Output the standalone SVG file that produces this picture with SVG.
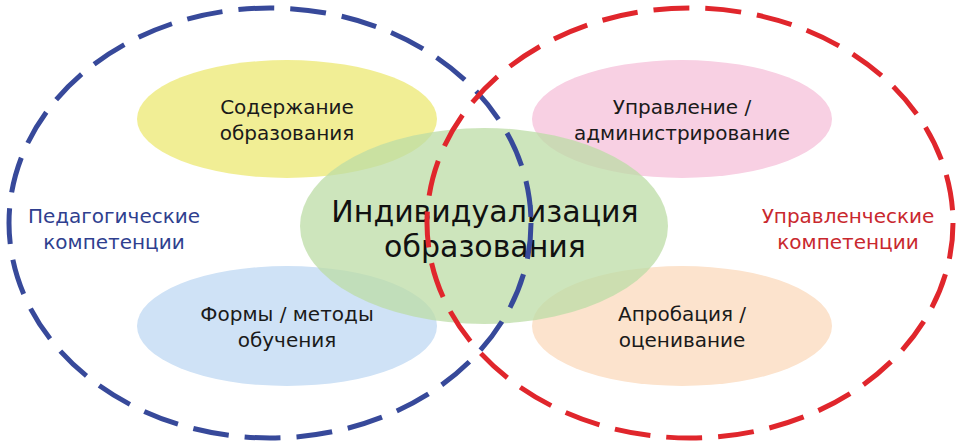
<svg xmlns="http://www.w3.org/2000/svg" width="960" height="446" viewBox="0 0 960 446">
<style>
.t{font-family:"DejaVu Sans","Noto Sans",sans-serif;font-size:20px;fill:#1a1a1a;text-anchor:middle}
.big{font-size:30px;fill:#111}
.lb{font-family:"DejaVu Sans","Noto Sans",sans-serif;font-size:20px;text-anchor:middle}
.ring{fill:none;stroke-width:5;stroke-dasharray:36 16}
</style>
<rect width="960" height="446" fill="#fff"/>
<g id="fills">
<g id="n-content"><ellipse cx="287" cy="119" rx="150" ry="59" fill="#f0ec8a" opacity="0.9"/></g>
<g id="n-admin"><ellipse cx="682" cy="119" rx="150" ry="59" fill="#f8d0e3"/></g>
<g id="n-forms"><ellipse cx="287" cy="326" rx="150" ry="60" fill="#cfe2f6"/></g>
<g id="n-approb"><ellipse cx="682" cy="326" rx="150" ry="60" fill="#fce3cd"/></g>
<g id="n-center"><ellipse cx="484" cy="226" rx="184" ry="98" fill="#bcdca5" opacity="0.75"/></g>
</g>
<g id="texts">
<text class="t" x="287" y="114">Содержание</text>
<text class="t" x="287" y="140">образования</text>
<text class="t" x="682" y="114">Управление /</text>
<text class="t" x="682" y="140">администрирование</text>
<text class="t" x="287" y="321">Формы / методы</text>
<text class="t" x="287" y="347">обучения</text>
<text class="t" x="682" y="321">Апробация /</text>
<text class="t" x="682" y="347">оценивание</text>
<text class="t big" x="485" y="222">Индивидуализация</text>
<text class="t big" x="485" y="257">образования</text>
</g>
<g id="n-ped">
<ellipse class="ring" cx="270" cy="223" rx="261" ry="215" stroke="#37499a"/>
<text class="lb" x="114" y="223" fill="#2f3f8f">Педагогические</text>
<text class="lb" x="114" y="249" fill="#2f3f8f">компетенции</text>
</g>
<g id="n-man">
<ellipse class="ring" cx="690" cy="223" rx="263" ry="215" stroke="#e0262c"/>
<text class="lb" x="848" y="223" fill="#c9282e">Управленческие</text>
<text class="lb" x="848" y="249" fill="#c9282e">компетенции</text>
</g>
<g id="connectors"/>
</svg>
